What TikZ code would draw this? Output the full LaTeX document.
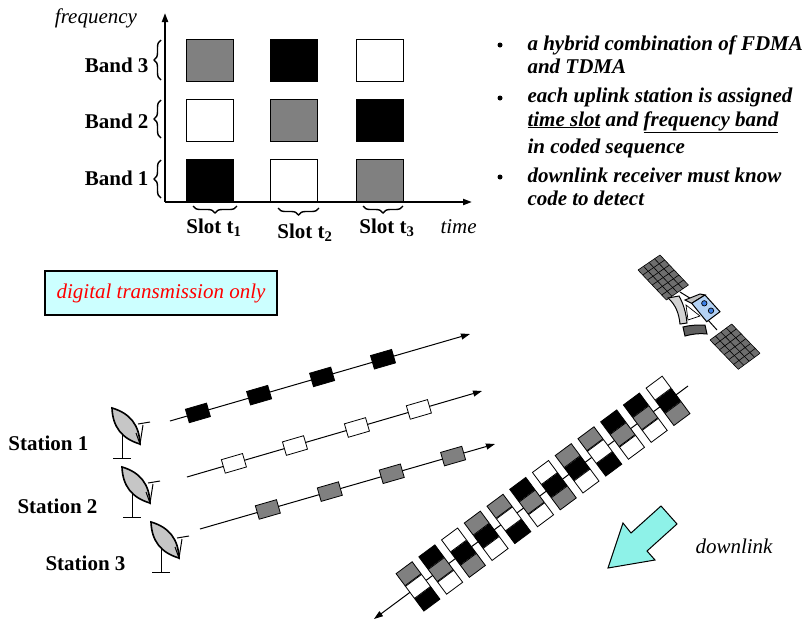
\documentclass[tikz,border=0pt]{standalone}
\usepackage{fontspec}
\setmainfont{Liberation Serif}
\usetikzlibrary{arrows.meta,decorations.pathreplacing}
\definecolor{midgray}{HTML}{808080}
\definecolor{notefill}{HTML}{CCFFFF}
\definecolor{beamfill}{HTML}{8EF2E8}
\definecolor{busblue}{HTML}{B4D2F4}
\definecolor{lensblue}{HTML}{3C7FE6}
\definecolor{cellgray}{HTML}{6E6E6E}
\tikzset{lbl/.style={font=\fontsize{21}{24}\selectfont\bfseries, inner sep=0pt},
	itl/.style={font=\fontsize{21}{24}\selectfont\itshape, inner sep=0pt},
	item/.style={font=\fontsize{21}{24}\selectfont\bfseries\itshape, inner sep=0pt, anchor=base west},
	cell/.style={draw, line width=0.8pt, minimum width=47pt, minimum height=42pt, inner sep=0pt},
	pkt/.style={draw, sloped, line width=0.8pt, minimum width=22pt, minimum height=14pt, inner sep=0pt},
	chip/.style={draw, line width=0.8pt, minimum width=20pt, minimum height=15pt, inner sep=0pt, rotate=36.6},
	brc/.style={decorate, decoration={brace, amplitude=7pt}, line width=1.4pt},
	dish/.pic={
		\draw[line width=1pt] (0,-30) -- (0,0) (-9,0) -- (9,0);
		\draw[line width=1.6pt, fill=gray!45] (-10,-50) .. controls (8,-44.8) and (17.4,-32.8) .. (18,-14)
			.. controls (0,-19.2) and (-9.4,-31.2) .. (-10,-50) -- cycle;
		\draw[line width=1pt] (14,-25) -- (18,-14) -- (21,-33) (16,-34) -- (28,-36);
	}}
\begin{document}
\begin{tikzpicture}[x=1pt, y=-1pt, line width=1pt, >={Triangle[length=9pt,width=6pt]}]
	\useasboundingbox (0,0) rectangle (806,622);
	% slots and bands
	\coordinate (O) at (165,202);
	\coordinate (fmax) at (165,13);
	\coordinate (tmax) at (472,202);
	\draw[->, line width=2pt] (O) -- (fmax);
	\draw[->, line width=2pt] (O) -- (tmax);
	\node[itl, anchor=base] (freq) at (96,23) {frequency};
	\node[itl, anchor=base west] (time) at (440,233) {time};

	\node[cell, fill=black] (c11) at (210,180) {};
	\node[cell, fill=white] (c21) at (294,180) {};
	\node[cell, fill=midgray] (c31) at (380,180) {};
	\node[cell, fill=white] (c12) at (210,120) {};
	\node[cell, fill=midgray] (c22) at (294,120) {};
	\node[cell, fill=black] (c32) at (380,120) {};
	\node[cell, fill=midgray] (c13) at (210,60) {};
	\node[cell, fill=black] (c23) at (294,60) {};
	\node[cell, fill=white] (c33) at (380,60) {};

	\draw[brc] (161,198) -- (161,160);
	\draw[brc] (161,138) -- (161,100);
	\draw[brc] (161,80) -- (161,40);
	\node[lbl, anchor=base east] (band1) at (149,185) {Band 1};
	\node[lbl, anchor=base east] (band2) at (149,128) {Band 2};
	\node[lbl, anchor=base east] (band3) at (149,72) {Band 3};

	\draw[brc] (237,206) -- (193,206);
	\draw[brc] (319,208) -- (278,208);
	\draw[brc] (403,206) -- (363,206);
	\node[lbl, anchor=base] (slot1) at (214,233) {Slot t\textsubscript{1}};
	\node[lbl, anchor=base] (slot2) at (305,238) {Slot t\textsubscript{2}};
	\node[lbl, anchor=base] (slot3) at (387,233) {Slot t\textsubscript{3}};

	% notes
	\node[circle, fill, inner sep=0pt, minimum size=5pt] (d1) at (500,45) {};
	\node[circle, fill, inner sep=0pt, minimum size=5pt] (d2) at (500,98) {};
	\node[circle, fill, inner sep=0pt, minimum size=5pt] (d3) at (500,177) {};
	\node[item] (n1a) at (527,50) {a hybrid combination of FDMA};
	\node[item] (n1b) at (527,73) {and TDMA};
	\node[item] (n2a) at (527,102) {each uplink station is assigned};
	\node[item] (n2b) at (527,126) {\underline{time slot} and \underline{frequency band}};
	\node[item] (n2c) at (527,153) {in coded sequence};
	\node[item] (n3a) at (527,182) {downlink receiver must know};
	\node[item] (n3b) at (527,205) {code to detect};

	\node[itl, draw, line width=1.5pt, fill=notefill, text=red, minimum width=232pt, minimum height=44pt] (note) at (161,293) {digital transmission only};

	% ground stations
	\pic (dish1) at (122,458) {dish};
	\pic (dish2) at (132,517) {dish};
	\pic (dish3) at (161,572) {dish};
	\node[lbl, anchor=base west] (st1) at (8,450) {Station 1};
	\node[lbl, anchor=base west] (st2) at (17,513) {Station 2};
	\node[lbl, anchor=base west] (st3) at (45,570) {Station 3};

	% uplinks
	\coordinate (u1s) at (170,421);
	\coordinate (u1e) at (470,334);
	\coordinate (u2s) at (187,477);
	\coordinate (u2e) at (482,391);
	\coordinate (u3s) at (200,529);
	\coordinate (u3e) at (495,444);
	\draw[->] (u1s) -- node[pkt, pos=.093, fill=black] (p11) {} node[pkt, pos=.297, fill=black] (p12) {}
		node[pkt, pos=.507, fill=black] (p13) {} node[pkt, pos=.71, fill=black] (p14) {} (u1e);
	\draw[->] (u2s) -- node[pkt, pos=.159, fill=white] (p21) {} node[pkt, pos=.366, fill=white] (p22) {}
		node[pkt, pos=.576, fill=white] (p23) {} node[pkt, pos=.786, fill=white] (p24) {} (u2e);
	\draw[->] (u3s) -- node[pkt, pos=.23, fill=midgray] (p31) {} node[pkt, pos=.44, fill=midgray] (p32) {}
		node[pkt, pos=.65, fill=midgray] (p33) {} node[pkt, pos=.858, fill=midgray] (p34) {} (u3e);

	% downlink
	\coordinate (dtop) at (688,386);
	\coordinate (dbot) at (374,619);
	\draw[->] (dtop) -- (dbot);
	\foreach \i/\ca/\cb/\cc in {1/midgray/white/black, 2/black/midgray/white, 3/white/black/midgray,
		4/midgray/black/white, 5/midgray/white/black, 6/black/midgray/white, 7/white/black/midgray,
		8/midgray/black/white, 9/midgray/white/black, 10/black/midgray/white, 11/black/midgray/white,
		12/white/black/midgray}{
		\node[chip, fill=\cb] (m\i) at ({418+22.73*(\i-1)},{586.4-16.87*(\i-1)}) {};
		\node[chip, fill=\ca, anchor=south] (t\i) at (m\i.north) {};
		\node[chip, fill=\cc, anchor=north] (b\i) at (m\i.south) {};
	}
	\draw[fill=beamfill] (608,568) -- (623,523) -- (631,533) -- (661,506) -- (677,524) -- (647,551) -- (655,560) -- cycle;
	\node[itl, anchor=base] (down) at (734,553) {downlink};

	% satellite
	\draw (680,292) -- (693,300) (708,320) -- (717,330);
	\begin{scope}[shift={(638,270)}, x={(22pt,15pt)}, y={(28.4pt,-30pt)}]
		\fill[cellgray] (0,0) -- (1,0) -- (1,1) -- (0,1) -- cycle;
		\foreach \k in {0,.25,.5,.75,1} \draw[line width=0.6pt] (\k,0) -- (\k,1);
		\foreach \k in {0,.1667,.3333,.5,.6667,.8333,1} \draw[line width=0.6pt] (0,\k) -- (1,\k);
	\end{scope}
	\begin{scope}[shift={(710,340)}, x={(21.7pt,16pt)}, y={(28.3pt,-29.3pt)}]
		\fill[cellgray] (0,0) -- (1,0) -- (1,1) -- (0,1) -- cycle;
		\foreach \k in {0,.25,.5,.75,1} \draw[line width=0.6pt] (\k,0) -- (\k,1);
		\foreach \k in {0,.1667,.3333,.5,.6667,.8333,1} \draw[line width=0.6pt] (0,\k) -- (1,\k);
	\end{scope}
	\draw[fill=gray!35] (668,298) .. controls (676,305) and (679,314) .. (680,324) -- (687,323)
		.. controls (686,312) and (683,303) .. (679,296) -- cycle;
	\draw[line width=0.7pt] (686,305) -- (688,320) -- (700,316) -- cycle;
	\draw[fill=gray!75!black] (683,327) .. controls (690,325) and (698,325) .. (705,325) -- (707,334)
		.. controls (700,333) and (692,334) .. (685,336) -- cycle;
	\draw[fill=gray!50] (685,300) -- (700,294) -- (705,295) -- (691.7,303.3) -- cycle;
	\draw[fill=busblue] (691.7,303.3) -- (705,295) -- (720,311.7) -- (706.7,321.7) -- cycle;
	\draw[fill=lensblue, line width=0.7pt] (704.3,303.3) circle [radius=2.7];
	\draw[fill=lensblue, line width=0.7pt] (711,310.7) circle [radius=2.7];
\end{tikzpicture}
\end{document}
